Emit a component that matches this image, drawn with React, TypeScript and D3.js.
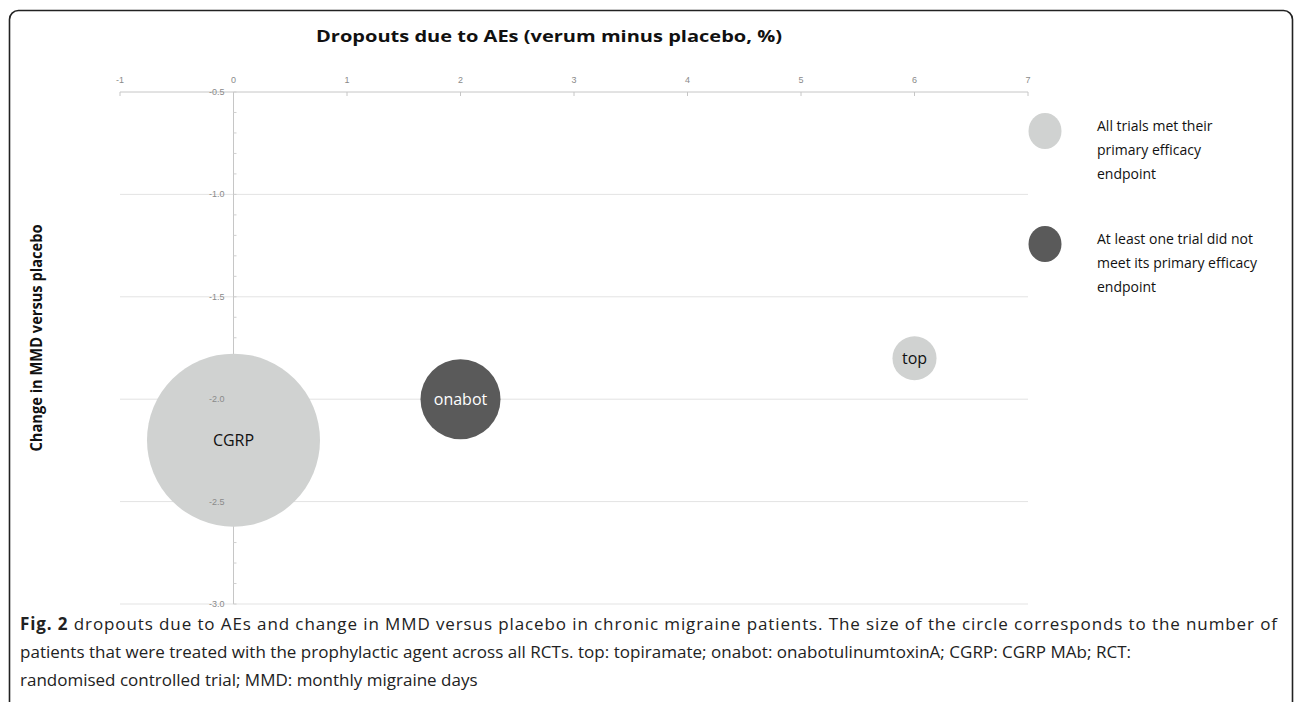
import React from "react";
import * as d3 from "d3";

const agents = ["CGRP", "onabot", "top"];
const dropoutDiff = [0, 2, 6];
const mmdChange = [-2.2, -2.0, -1.8];
const patients = [6470, 1384, 420];
const metEndpoint = [true, false, true];

const xTicks = [-1, 0, 1, 2, 3, 4, 5, 6, 7];
const yTicks = [-0.5, -1.0, -1.5, -2.0, -2.5, -3.0];
const yMinorTicks = d3.range(-5, -31, -1).map((v) => v / 10);

const legendLabels = [
  ["All trials met their", "primary efficacy", "endpoint"],
  ["At least one trial did not", "meet its primary efficacy", "endpoint"],
];

const LIGHT = "#D0D2D1";
const DARK = "#5A5A5A";
const chartFont = "'Open Sans', Lato, sans-serif";
const tickFont = "'Liberation Sans', Arial, sans-serif";
const captionFont = "'Open Sans', 'Noto Sans', sans-serif";

const fmt = (s: string) => s.replace("\u2212", "-");

export default function App() {
  const x = d3.scaleLinear().domain([-1, 7]).range([120, 1028]);
  const y = d3.scaleLinear().domain([-0.5, -3]).range([92, 604]);
  const r = d3.scaleSqrt().domain([0, d3.max(patients) as number]).range([0, 86.5]);

  return (
    <svg
      width={1295}
      height={702}
      style={{ position: "absolute", left: 0, top: 0, background: "#fff" }}
    >
      <rect x={9.5} y={10.5} width={1283} height={720} rx={9} fill="#fff" stroke="#222" strokeWidth={1.6} />

      {/* gridlines */}
      {yTicks.slice(1).map((t) => (
        <line key={"g" + t} x1={x(-1)} x2={x(7)} y1={y(t)} y2={y(t)} stroke="#e3e3e3" strokeWidth={1} />
      ))}

      {/* x axis line + ticks */}
      <line x1={x(-1)} x2={x(7)} y1={y(-0.5)} y2={y(-0.5)} stroke="#c6c6c6" strokeWidth={1} />
      {xTicks.map((t) => (
        <line key={"xt" + t} x1={x(t)} x2={x(t)} y1={y(-0.5)} y2={y(-0.5) + 4} stroke="#c6c6c6" />
      ))}
      {xTicks.map((t) => (
        <text key={"xl" + t} x={x(t)} y={83} fontSize={9} fill="#8a8a8a" textAnchor="middle" fontFamily={tickFont}>
          {fmt(d3.format("d")(t))}
        </text>
      ))}

      {/* y axis line + ticks */}
      <line x1={x(0)} x2={x(0)} y1={y(-0.5)} y2={y(-3)} stroke="#c6c6c6" strokeWidth={1} />
      {yMinorTicks.map((t) => (
        <line key={"ym" + t} x1={x(0)} x2={x(0) + 3} y1={y(t)} y2={y(t)} stroke="#d0d0d0" />
      ))}

      {/* bubbles */}
      {agents.map((a, i) => (
        <circle
          key={"c" + a}
          cx={x(dropoutDiff[i])}
          cy={y(mmdChange[i])}
          r={r(patients[i])}
          fill={metEndpoint[i] ? LIGHT : DARK}
        />
      ))}

      {/* y tick labels */}
      {yTicks.map((t) => (
        <text key={"yl" + t} x={x(0) - 9} y={y(t) + 3} fontSize={9} fill="#8a8a8a" textAnchor="end" fontFamily={tickFont}>
          {fmt(d3.format(".1f")(t))}
        </text>
      ))}

      {/* bubble labels */}
      {agents.map((a, i) => (
        <text
          key={"t" + a}
          x={x(dropoutDiff[i])}
          y={y(mmdChange[i]) + 6}
          fontSize={16}
          textAnchor="middle"
          fill={metEndpoint[i] ? "#111" : "#fff"}
          fontFamily={chartFont}
        >
          {a}
        </text>
      ))}

      {/* titles */}
      <text x={549} y={42} fontSize={15.5} fontWeight="bold" textAnchor="middle" fontFamily={chartFont} fill="#111" textLength={466} lengthAdjust="spacingAndGlyphs">
        Dropouts due to AEs (verum minus placebo, %)
      </text>
      <text
        transform="translate(42,338) rotate(-90)"
        fontSize={15.5}
        fontWeight="bold"
        textAnchor="middle"
        fontFamily={chartFont}
        fill="#111"
        textLength={227}
        lengthAdjust="spacingAndGlyphs"
      >
        Change in MMD versus placebo
      </text>

      {/* legend */}
      {legendLabels.map((lines, i) => (
        <g key={"lg" + i}>
          <ellipse cx={1045} cy={131 + i * 113} rx={16.5} ry={18} fill={i === 0 ? LIGHT : DARK} />
          {lines.map((ln, j) => (
            <text key={j} x={1097} y={131 + i * 113 + j * 24} fontSize={14} fill="#111" fontFamily={chartFont}>
              {ln}
            </text>
          ))}
        </g>
      ))}

      {/* caption */}
      <text x={20} y={630} fontSize={17} fill="#222" fontFamily={captionFont} textLength={1257} lengthAdjust="spacing">
        <tspan fontWeight="bold">Fig. 2</tspan> dropouts due to AEs and change in MMD versus placebo in chronic migraine patients. The size of the circle corresponds to the number of
      </text>
      <text x={20} y={658} fontSize={17} fill="#222" fontFamily={captionFont} textLength={1111} lengthAdjust="spacing">
        patients that were treated with the prophylactic agent across all RCTs. top: topiramate; onabot: onabotulinumtoxinA; CGRP: CGRP MAb; RCT:
      </text>
      <text x={20} y={686} fontSize={17} fill="#222" fontFamily={captionFont}>
        randomised controlled trial; MMD: monthly migraine days
      </text>
    </svg>
  );
}
